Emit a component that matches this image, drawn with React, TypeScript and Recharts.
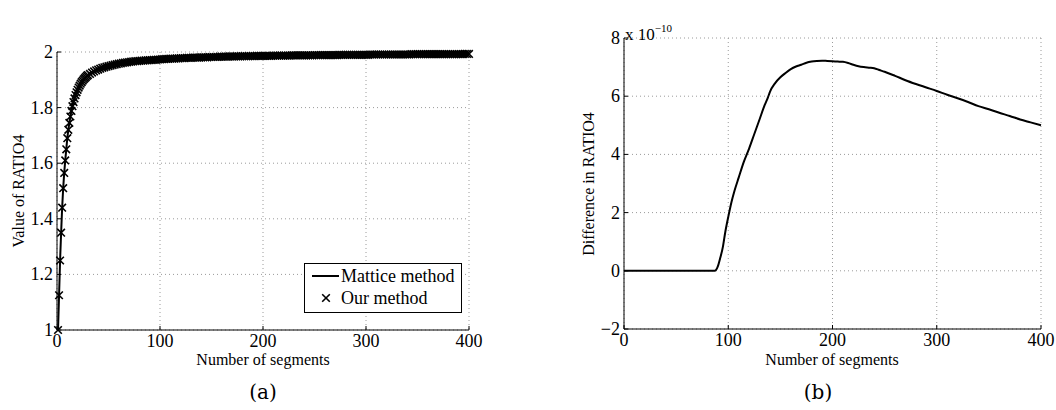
import { CartesianGrid, Legend, Line, LineChart, XAxis, YAxis } from "recharts";

const FONT = '"Liberation Serif", "DejaVu Serif", serif';
const INK = "#000";
const GRID = "#9a9a9a";

const segmentTicks = [0, 100, 200, 300, 400];
const ratioTicks = [1, 1.2, 1.4, 1.6, 1.8, 2];
const diffTicks = [-2, 0, 2, 4, 6, 8];

/** (a) number of segments at which RATIO4 was evaluated. */
const ratioSegments = [
  1, 2, 3, 4, 5, 6, 7, 8, 9, 10, 11, 12, 13, 14, 15, 16, 17, 18, 19, 20, 21,
  22, 23, 24, 25, 26, 27, 28, 29, 30,
  32, 34, 36, 38, 40, 42, 44, 46, 48, 50, 52, 54, 56, 58,
  60, 62, 64, 66, 68, 70, 72, 74, 76, 78, 80, 82, 84, 86, 88, 90, 92, 94, 96,
  98, 100,
  102, 104, 106, 108, 110, 112, 114, 116, 118, 120,
  122, 124, 126, 128, 130, 132, 134, 136, 138, 140,
  142, 144, 146, 148, 150, 152, 154, 156, 158, 160,
  162, 164, 166, 168, 170, 172, 174, 176, 178, 180,
  182, 184, 186, 188, 190, 192, 194, 196, 198, 200,
  202, 204, 206, 208, 210, 212, 214, 216, 218, 220,
  222, 224, 226, 228, 230, 232, 234, 236, 238, 240,
  242, 244, 246, 248, 250, 252, 254, 256, 258, 260,
  262, 264, 266, 268, 270, 272, 274, 276, 278, 280,
  282, 284, 286, 288, 290, 292, 294, 296, 298, 300,
  302, 304, 306, 308, 310, 312, 314, 316, 318, 320,
  322, 324, 326, 328, 330, 332, 334, 336, 338, 340,
  342, 344, 346, 348, 350, 352, 354, 356, 358, 360,
  362, 364, 366, 368, 370, 372, 374, 376, 378, 380,
  382, 384, 386, 388, 390, 392, 394, 396, 398, 400,
];

const matticeRatio = [
  1.0, 1.125, 1.25, 1.35, 1.44, 1.51, 1.565, 1.61, 1.65, 1.69, 1.72, 1.745,
  1.768, 1.788, 1.805, 1.82, 1.833, 1.845, 1.855, 1.864, 1.872, 1.879, 1.886,
  1.892, 1.897, 1.902, 1.906, 1.91, 1.914, 1.917,
  1.921, 1.926, 1.93, 1.934, 1.937, 1.94, 1.943, 1.945, 1.947, 1.949, 1.951,
  1.953, 1.955, 1.956,
  1.958, 1.959, 1.961, 1.962, 1.963, 1.964, 1.965, 1.966, 1.967, 1.967, 1.968,
  1.969, 1.969, 1.97, 1.97, 1.971, 1.971, 1.972, 1.972, 1.973, 1.973,
  1.974, 1.974, 1.975, 1.975, 1.976, 1.976, 1.976, 1.977, 1.977, 1.978,
  1.978, 1.978, 1.979, 1.979, 1.979, 1.98, 1.98, 1.98, 1.98, 1.981,
  1.981, 1.981, 1.981, 1.982, 1.982, 1.982, 1.982, 1.982, 1.983, 1.983,
  1.983, 1.983, 1.983, 1.984, 1.984, 1.984, 1.984, 1.984, 1.984, 1.985,
  1.985, 1.985, 1.985, 1.985, 1.985, 1.985, 1.986, 1.986, 1.986, 1.986,
  1.986, 1.986, 1.986, 1.986, 1.987, 1.987, 1.987, 1.987, 1.987, 1.987,
  1.987, 1.987, 1.987, 1.988, 1.988, 1.988, 1.988, 1.988, 1.988, 1.988,
  1.988, 1.988, 1.988, 1.988, 1.989, 1.989, 1.989, 1.989, 1.989, 1.989,
  1.989, 1.989, 1.989, 1.989, 1.989, 1.989, 1.99, 1.99, 1.99, 1.99,
  1.99, 1.99, 1.99, 1.99, 1.99, 1.99, 1.99, 1.99, 1.99, 1.99,
  1.99, 1.991, 1.991, 1.991, 1.991, 1.991, 1.991, 1.991, 1.991, 1.991,
  1.991, 1.991, 1.991, 1.991, 1.991, 1.991, 1.991, 1.991, 1.991, 1.991,
  1.991, 1.992, 1.992, 1.992, 1.992, 1.992, 1.992, 1.992, 1.992, 1.992,
  1.992, 1.992, 1.992, 1.992, 1.992, 1.992, 1.992, 1.992, 1.992, 1.992,
  1.992, 1.992, 1.992, 1.992, 1.992, 1.992, 1.992, 1.993, 1.993, 1.993,
];

// Both methods agree to ~1e-10, so the markers sit on the same values.
const ourRatio = matticeRatio;

/** (b) difference between the two methods, in units of 1e-10. */
const diffSegments = [
  0, 10, 20, 30, 40, 50, 60, 70, 80, 87, 90, 92, 95, 97, 100, 103, 106, 110,
  115, 120, 125, 130, 135, 138, 140, 145, 150, 155, 160, 165, 170, 175, 180,
  185, 190, 195, 200, 205, 210, 215, 220, 225, 230, 235, 240, 245, 250, 260,
  270, 280, 290, 300, 310, 320, 330, 340, 350, 360, 370, 380, 390, 400,
];

const ratioDifference = [
  0, 0, 0, 0, 0, 0, 0, 0, 0, 0, 0.15, 0.4, 0.85, 1.3, 1.85, 2.35, 2.75, 3.2,
  3.75, 4.2, 4.7, 5.2, 5.7, 5.95, 6.15, 6.45, 6.65, 6.8, 6.93, 7.02, 7.08,
  7.15, 7.19, 7.21, 7.22, 7.21, 7.2, 7.19, 7.18, 7.14, 7.08, 7.03, 7.0, 6.98,
  6.96, 6.9, 6.84, 6.7, 6.55, 6.42, 6.3, 6.18, 6.05, 5.93, 5.8, 5.66, 5.55,
  5.43, 5.32, 5.2, 5.1, 5.0,
];

const ratioRows = ratioSegments.map((n, i) => ({
  n,
  mattice: matticeRatio[i],
  ours: ourRatio[i],
}));

const diffRows = diffSegments.map((n, i) => ({ n, diff: ratioDifference[i] }));

function formatTick(v: number): string {
  return v < 0 ? `\u2212${-v}` : String(v);
}

/** MATLAB-style bottom tick: short mark pointing into the plot, label below. */
function BottomTick({ x, y, payload }: any) {
  return (
    <g>
      <line x1={x} x2={x} y1={y} y2={y - 4} stroke={INK} />
      <text
        x={x}
        y={y + 17}
        textAnchor="middle"
        fontFamily={FONT}
        fontSize={18}
        fill={INK}
      >
        {formatTick(payload.value)}
      </text>
    </g>
  );
}

function LeftTick({ x, y, payload }: any) {
  return (
    <g>
      <line x1={x} x2={x + 4} y1={y} y2={y} stroke={INK} />
      <text
        x={x - 4}
        y={y + 6}
        textAnchor="end"
        fontFamily={FONT}
        fontSize={18}
        fill={INK}
      >
        {formatTick(payload.value)}
      </text>
    </g>
  );
}

function CrossDot({ cx, cy }: any) {
  if (cx == null || cy == null) return null;
  const r = 3.8;
  return (
    <path
      d={`M${cx - r},${cy - r}L${cx + r},${cy + r}M${cx - r},${cy + r}L${cx + r},${cy - r}`}
      stroke={INK}
      strokeWidth={1.6}
      fill="none"
    />
  );
}

function RatioLegend() {
  const row = { display: "flex", alignItems: "center", height: 22 } as const;
  return (
    <div
      style={{
        width: 156,
        height: 47,
        border: `1px solid ${INK}`,
        background: "#fff",
        fontFamily: FONT,
        fontSize: 18,
        color: INK,
        paddingTop: 1,
        boxSizing: "content-box",
      }}
    >
      <div style={row}>
        <svg width={36} height={10}>
          <line x1={7} x2={34} y1={5} y2={5} stroke={INK} strokeWidth={2} />
        </svg>
        <span>Mattice method</span>
      </div>
      <div style={row}>
        <svg width={36} height={10}>
          <CrossDot cx={21} cy={5} />
        </svg>
        <span>Our method</span>
      </div>
    </div>
  );
}

const labelStyle = {
  position: "absolute",
  fontFamily: FONT,
  fontSize: 16,
  color: INK,
  whiteSpace: "nowrap",
  lineHeight: "16px",
} as const;

const captionStyle = {
  ...labelStyle,
  top: 381,
  fontFamily: '"DejaVu Serif", serif',
  fontSize: 20,
  lineHeight: "22px",
  transform: "translateX(-50%)",
} as const;

export default function App() {
  return (
    <div
      style={{
        position: "fixed",
        left: 0,
        top: 0,
        width: 1056,
        height: 410,
        background: "#fff",
      }}
    >
      <div style={{ position: "absolute", left: 0, top: 0 }}>
        <LineChart
          width={530}
          height={410}
          data={ratioRows}
          margin={{ top: 52, right: 61, bottom: 0, left: 0 }}
        >
          <CartesianGrid
            stroke={GRID}
            strokeDasharray="1 3"
            horizontalValues={ratioTicks}
            verticalValues={segmentTicks}
          />
          <XAxis
            dataKey="n"
            type="number"
            domain={[0, 400]}
            ticks={segmentTicks}
            height={80}
            tickSize={0}
            tickMargin={0}
            tickLine={false}
            axisLine={{ stroke: INK }}
            tick={<BottomTick />}
            interval={0}
          />
          <YAxis
            type="number"
            domain={[1, 2]}
            ticks={ratioTicks}
            width={57}
            tickSize={0}
            tickMargin={0}
            tickLine={false}
            axisLine={{ stroke: INK }}
            tick={<LeftTick />}
            interval={0}
          />
          <Legend
            layout="vertical"
            align="center"
            verticalAlign="middle"
            wrapperStyle={{ left: 304, top: 263, width: "auto" }}
            content={() => <RatioLegend />}
          />
          <Line
            dataKey="mattice"
            name="Mattice method"
            stroke={INK}
            strokeWidth={2}
            dot={false}
            isAnimationActive={false}
          />
          <Line
            dataKey="ours"
            name="Our method"
            stroke="none"
            dot={<CrossDot />}
            isAnimationActive={false}
          />
        </LineChart>
      </div>

      <div style={{ position: "absolute", left: 530, top: 0 }}>
        <LineChart
          width={526}
          height={410}
          data={diffRows}
          margin={{ top: 38, right: 15, bottom: 0, left: 0 }}
        >
          <CartesianGrid
            stroke={GRID}
            strokeDasharray="1 3"
            horizontalValues={diffTicks}
            verticalValues={segmentTicks}
          />
          <XAxis
            dataKey="n"
            type="number"
            domain={[0, 400]}
            ticks={segmentTicks}
            height={81}
            tickSize={0}
            tickMargin={0}
            tickLine={false}
            axisLine={{ stroke: INK }}
            tick={<BottomTick />}
            interval={0}
          />
          <YAxis
            type="number"
            domain={[-2, 8]}
            ticks={diffTicks}
            width={94}
            tickSize={0}
            tickMargin={0}
            tickLine={false}
            axisLine={{ stroke: INK }}
            tick={<LeftTick />}
            interval={0}
          />
          <Line
            type="monotone"
            dataKey="diff"
            name="Difference"
            stroke={INK}
            strokeWidth={2}
            dot={false}
            isAnimationActive={false}
          />
        </LineChart>
      </div>

      {/* axis titles and captions */}
      <div
        style={{
          ...labelStyle,
          left: 19,
          top: 191,
          transform: "translate(-50%, -50%) rotate(-90deg)",
        }}
      >
        Value of RATIO4
      </div>
      <div style={{ ...labelStyle, left: 263, top: 352, transform: "translateX(-50%)" }}>
        Number of segments
      </div>
      <div
        style={{
          ...labelStyle,
          left: 589,
          top: 184,
          transform: "translate(-50%, -50%) rotate(-90deg)",
        }}
      >
        Difference in RATIO4
      </div>
      <div style={{ ...labelStyle, left: 832, top: 352, transform: "translateX(-50%)" }}>
        Number of segments
      </div>
      <div style={{ ...labelStyle, left: 625, top: 20, fontSize: 17 }}>
        x 10<sup style={{ fontSize: 11, verticalAlign: 8 }}>{"\u221210"}</sup>
      </div>
      <div style={{ ...captionStyle, left: 263 }}>(a)</div>
      <div style={{ ...captionStyle, left: 818 }}>(b)</div>
    </div>
  );
}
